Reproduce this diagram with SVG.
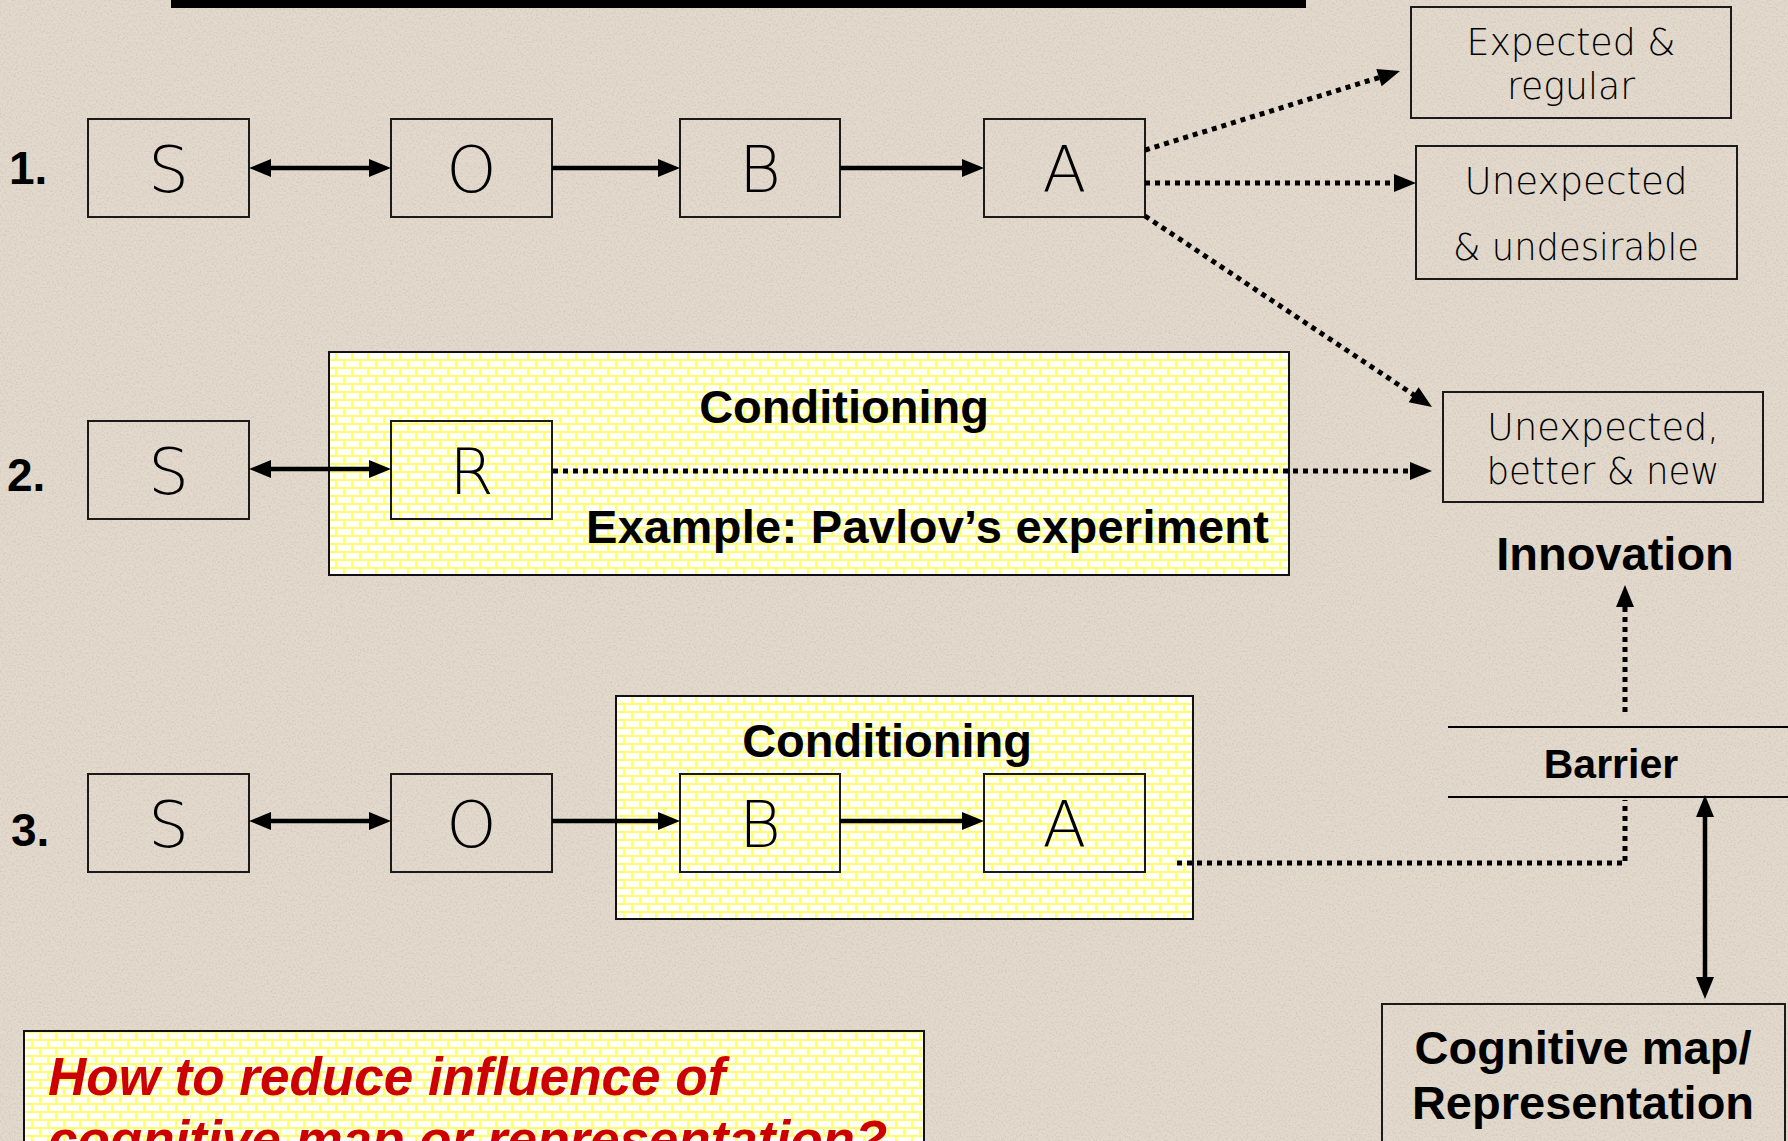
<svg xmlns="http://www.w3.org/2000/svg" width="1788" height="1141" viewBox="0 0 1788 1141">
  <defs>
    <style>
      .box { fill: none; stroke: #1a1a1a; stroke-width: 2; }
      .panel { fill: url(#bricks); stroke: #111; stroke-width: 2; }
      .solid { fill: none; stroke: #000; stroke-width: 4.5; }
      .dotted { fill: none; stroke: #000; stroke-width: 5; stroke-dasharray: 5 5; }
      .big { font-family: "DejaVu Sans", "Lato", sans-serif; font-weight: 200; font-size: 64px; fill: #000; text-anchor: middle; }
      .thin { font-family: "DejaVu Sans", "Lato", sans-serif; font-weight: 200; font-size: 38px; fill: #000; text-anchor: middle; }
      .bold { font-family: "Liberation Sans", Arial, sans-serif; font-weight: bold; fill: #000; }
      .num { font-family: "Liberation Sans", Arial, sans-serif; font-weight: bold; font-size: 46px; fill: #000; }
      .question { font-family: "Liberation Sans", Arial, sans-serif; font-weight: bold; font-style: italic; font-size: 53px; fill: #cc0000; }
    </style>
    <!-- yellow brick fill used by the highlighted panels -->
    <pattern id="bricks" patternUnits="userSpaceOnUse" width="16" height="16">
      <rect width="16" height="16" fill="#ffff66"/>
      <rect x="1" y="1" width="14" height="6" fill="#ffffff"/>
      <rect x="-7" y="9" width="14" height="6" fill="#ffffff"/>
      <rect x="9" y="9" width="14" height="6" fill="#ffffff"/>
    </pattern>
    <filter id="grain" x="0" y="0" width="1" height="1">
      <feTurbulence type="fractalNoise" baseFrequency="0.55" numOctaves="2" seed="7"/>
      <feColorMatrix type="matrix" values="0 0 0 0 0.40  0 0 0 0 0.36  0 0 0 0 0.30  1.8 0 0 0 -0.8"/>
    </filter>
    <marker id="head" markerUnits="userSpaceOnUse" markerWidth="22" markerHeight="18" refX="11" refY="9" orient="auto-start-reverse" overflow="visible">
      <path d="M0,0 L22,9 L0,18 z" fill="#000"/>
    </marker>
  </defs>

  <!-- paper background -->
  <rect width="1788" height="1141" fill="#e3dacd"/>
  <rect width="1788" height="1141" filter="url(#grain)" opacity="0.4"/>

  <!-- heading rule -->
  <rect x="171" y="-2" width="1135" height="10" fill="#000"/>

  <!-- shaded panels -->
  <g id="panel-conditioning-2">
    <rect class="panel" x="329" y="352" width="960" height="223"/>
    <text class="bold" x="844" y="423" font-size="47" text-anchor="middle">Conditioning</text>
    <text class="bold" x="586" y="543" font-size="47" textLength="683">Example: Pavlov’s experiment</text>
  </g>
  <g id="panel-conditioning-3">
    <rect class="panel" x="616" y="696" width="577" height="223"/>
    <text class="bold" x="887" y="757" font-size="47" text-anchor="middle">Conditioning</text>
  </g>

  <!-- row labels -->
  <text class="num" x="9" y="184">1.</text>
  <text class="num" x="7" y="491">2.</text>
  <text class="num" x="11" y="846">3.</text>

  <!-- row 1 -->
  <g id="s1"><rect class="box" x="88" y="119" width="161" height="98"/><text class="big" x="168.5" y="192">S</text></g>
  <g id="o1"><rect class="box" x="391" y="119" width="161" height="98"/><text class="big" x="471.5" y="192">O</text></g>
  <g id="b1"><rect class="box" x="680" y="119" width="160" height="98"/><text class="big" x="760" y="192">B</text></g>
  <g id="a1"><rect class="box" x="984" y="119" width="161" height="98"/><text class="big" x="1064.5" y="192">A</text></g>

  <!-- row 2 -->
  <g id="s2"><rect class="box" x="88" y="421" width="161" height="98"/><text class="big" x="168.5" y="494">S</text></g>
  <g id="r2"><rect class="box" x="391" y="421" width="161" height="98"/><text class="big" x="471.5" y="494">R</text></g>

  <!-- row 3 -->
  <g id="s3"><rect class="box" x="88" y="774" width="161" height="98"/><text class="big" x="168.5" y="847">S</text></g>
  <g id="o3"><rect class="box" x="391" y="774" width="161" height="98"/><text class="big" x="471.5" y="847">O</text></g>
  <g id="b3"><rect class="box" x="680" y="774" width="160" height="98"/><text class="big" x="760" y="847">B</text></g>
  <g id="a3"><rect class="box" x="984" y="774" width="161" height="98"/><text class="big" x="1064.5" y="847">A</text></g>

  <!-- outcomes -->
  <g id="expected-regular">
    <rect class="box" x="1411" y="7" width="320" height="111"/>
    <text class="thin" x="1571" y="55" textLength="209" lengthAdjust="spacingAndGlyphs">Expected &amp;</text>
    <text class="thin" x="1571" y="99" textLength="128" lengthAdjust="spacingAndGlyphs">regular</text>
  </g>
  <g id="unexpected-undesirable">
    <rect class="box" x="1416" y="146" width="321" height="133"/>
    <text class="thin" x="1576" y="194" textLength="223" lengthAdjust="spacingAndGlyphs">Unexpected</text>
    <text class="thin" x="1576" y="260" textLength="246" lengthAdjust="spacingAndGlyphs">&amp; undesirable</text>
  </g>
  <g id="unexpected-better-new">
    <rect class="box" x="1443" y="392" width="320" height="110"/>
    <text class="thin" x="1603" y="440" textLength="232" lengthAdjust="spacingAndGlyphs">Unexpected,</text>
    <text class="thin" x="1603" y="484" textLength="233" lengthAdjust="spacingAndGlyphs">better &amp; new</text>
  </g>

  <g id="innovation">
    <text class="bold" x="1615" y="570" font-size="47" text-anchor="middle">Innovation</text>
  </g>

  <g id="barrier">
    <line x1="1448" y1="727" x2="1788" y2="727" stroke="#000" stroke-width="2"/>
    <line x1="1448" y1="797" x2="1788" y2="797" stroke="#000" stroke-width="2"/>
    <text class="bold" x="1611" y="778" font-size="41" text-anchor="middle">Barrier</text>
  </g>

  <g id="cognitive-map">
    <rect class="box" x="1382" y="1004" width="403" height="160"/>
    <text class="bold" x="1583" y="1064" font-size="47" text-anchor="middle">Cognitive map/</text>
    <text class="bold" x="1583" y="1119" font-size="47" text-anchor="middle">Representation</text>
  </g>

  <g id="question">
    <rect class="panel" x="24" y="1031" width="900" height="150"/>
    <text class="question" x="48" y="1095">How to reduce influence of</text>
    <text class="question" x="48" y="1158">cognitive map or representation?</text>
  </g>

  <!-- connectors -->
  <g id="connectors">
    <!-- row 1 -->
    <line class="solid" x1="260" y1="168" x2="380" y2="168" marker-start="url(#head)" marker-end="url(#head)"/>
    <line class="solid" x1="552" y1="168" x2="669" y2="168" marker-end="url(#head)"/>
    <line class="solid" x1="840" y1="168" x2="973" y2="168" marker-end="url(#head)"/>
    <line class="dotted" x1="1145" y1="150" x2="1389.5" y2="74.3" marker-end="url(#head)"/>
    <line class="dotted" x1="1145" y1="183" x2="1405" y2="183" marker-end="url(#head)"/>
    <line class="dotted" x1="1145" y1="216" x2="1422.8" y2="400.9" marker-end="url(#head)"/>
    <!-- row 2 -->
    <line class="solid" x1="260" y1="469" x2="380" y2="469" marker-start="url(#head)" marker-end="url(#head)"/>
    <line class="dotted" x1="553" y1="471" x2="1421" y2="471" marker-end="url(#head)"/>
    <!-- row 3 -->
    <line class="solid" x1="260" y1="821" x2="380" y2="821" marker-start="url(#head)" marker-end="url(#head)"/>
    <line class="solid" x1="552" y1="821" x2="669" y2="821" marker-end="url(#head)"/>
    <line class="solid" x1="840" y1="821" x2="973" y2="821" marker-end="url(#head)"/>
    <polyline class="dotted" points="1177,863 1625,863 1625,800"/>
    <!-- barrier crossing -->
    <line class="dotted" x1="1625" y1="712" x2="1625" y2="596" marker-end="url(#head)"/>
    <line class="solid" x1="1705" y1="806" x2="1705" y2="988" marker-start="url(#head)" marker-end="url(#head)"/>
  </g>
</svg>
